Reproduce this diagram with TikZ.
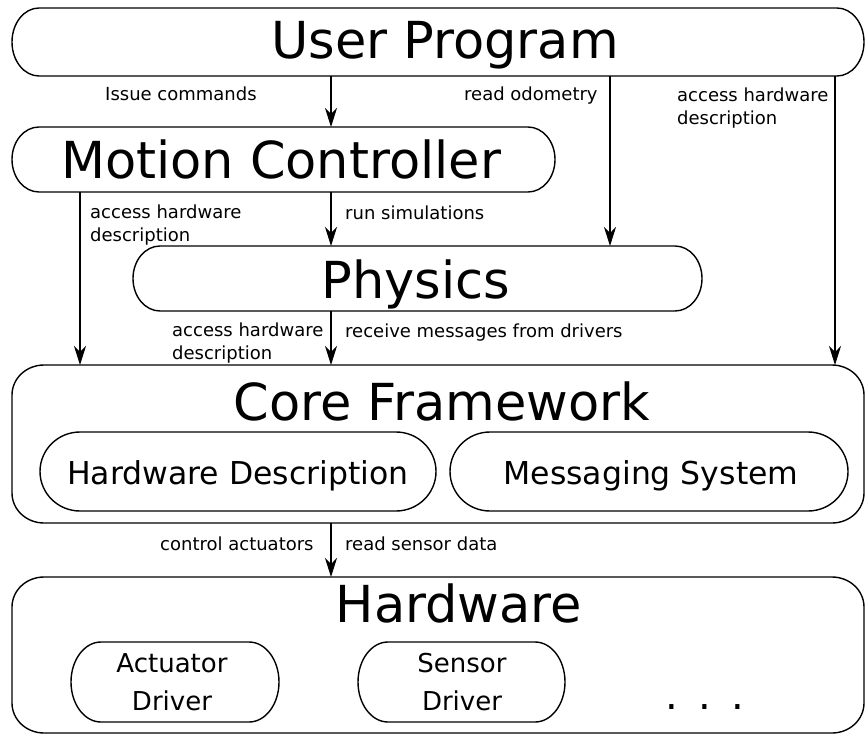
\documentclass[tikz,border=0pt]{standalone}
\usepackage{fontspec}
\setmainfont{DejaVu Sans}
\usetikzlibrary{arrows.meta}
% outline with elliptical corners around a named node: name, rx, ry
\newcommand\eoutline[3]{%
  \draw[boxline] ([xshift=#2pt]#1.north west) -- ([xshift=-#2pt]#1.north east)
    arc[start angle=90,end angle=0,x radius=#2pt,y radius=#3pt]
    -- ([yshift=#3pt]#1.south east)
    arc[start angle=0,end angle=-90,x radius=#2pt,y radius=#3pt]
    -- ([xshift=#2pt]#1.south west)
    arc[start angle=270,end angle=180,x radius=#2pt,y radius=#3pt]
    -- ([yshift=-#3pt]#1.north west)
    arc[start angle=180,end angle=90,x radius=#2pt,y radius=#3pt] -- cycle;}
% box node: name, left, top, right, bottom, rx, ry
\newcommand\mkbox[7]{%
  \node[boxnode, minimum width={(#4-#2)*1pt}, minimum height={(#5-#3)*1pt}]
    (#1) at ({(#2+#4)/2},{(#3+#5)/2}) {};
  \eoutline{#1}{#6}{#7}}
\begin{document}
\begin{tikzpicture}[x=1pt,y=-1pt,
  boxnode/.style={shape=rectangle,draw=none,inner sep=0pt,outer sep=0pt},
  boxline/.style={line width=1.4pt},
  bigtxt/.style={inner sep=0pt,font=\fontsize{51}{60}\selectfont},
  midtxt/.style={inner sep=0pt,font=\fontsize{31.5}{38}\selectfont},
  drvtxt/.style={inner sep=0pt,align=center,font=\fontsize{26}{38}\selectfont},
  lbl/.style={inner sep=0pt,align=left,font=\fontsize{18}{22.5}\selectfont},
  arr/.style={line width=1.1pt,-{Stealth[length=19pt,width=12pt,inset=6pt]}}]
\useasboundingbox (0,0) rectangle (866,735);

% boxes
\mkbox{up}{12}{8}{864}{76}{27}{34}
\mkbox{mc}{12}{127}{555}{192}{27}{32.5}
\mkbox{phys}{133}{246}{702}{311}{27}{32.5}
\mkbox{core}{12}{365}{864}{523}{32}{30}
\mkbox{hwd}{40}{432}{436}{511}{40}{39.5}
\mkbox{msg}{450}{432}{848}{511}{40}{39.5}
\mkbox{hw}{12}{577}{864}{733}{32}{30}
\mkbox{act}{71}{642}{279}{722}{30}{40}
\mkbox{sens}{358}{642}{565}{722}{30}{40}

% titles
\node[bigtxt,anchor=base] (upT) at (445,59) {User Program};
\node[bigtxt,anchor=base] (mcT) at (281,179) {Motion Controller};
\node[bigtxt,anchor=base] (physT) at (416,298) {Physics};
\node[bigtxt,anchor=base] (coreT) at (442,420) {Core Framework};
\node[midtxt,anchor=base] (hwdT) at (238,484) {Hardware Description};
\node[midtxt,anchor=base] (msgT) at (651,484) {Messaging System};
\node[bigtxt,anchor=base] (hwT) at (459,622) {Hardware};
\node[drvtxt,anchor=north] (actT) at (172,653) {Actuator\\Driver};
\node[drvtxt,anchor=north] (sensT) at (462,653) {Sensor\\Driver};
\node[inner sep=0pt,font=\fontsize{40}{46}\selectfont,anchor=base west] (dots) at (665,709) {.\kern20.5pt.\kern20.5pt.};

% connector columns
\coordinate (cM) at (331,0);
\coordinate (cO) at (610,0);
\coordinate (cR) at (835,0);
\coordinate (cL) at (80,0);

% connectors
\draw[arr] (up.south -| cM) -- (mc.north -| cM);
\draw[arr] (up.south -| cO) -- (phys.north -| cO);
\draw[arr] (up.south -| cR) -- (core.north -| cR);
\draw[arr] (mc.south -| cM) -- (phys.north -| cM);
\draw[arr] (mc.south -| cL) -- (core.north -| cL);
\draw[arr] (phys.south -| cM) -- (core.north -| cM);
\draw[arr] (core.south -| cM) -- (hw.north -| cM);

% labels
\node[lbl,anchor=base west] (l1) at (105,101) {Issue commands};
\node[lbl,anchor=base west] (l2) at (464,101) {read odometry};
\node[lbl,anchor=north west] (l3) at (677,88) {access hardware\\description};
\node[lbl,anchor=north west] (l4) at (90,205) {access hardware\\description};
\node[lbl,anchor=base west] (l5) at (345,219) {run simulations};
\node[lbl,anchor=north west] (l6) at (172,323) {access hardware\\description};
\node[lbl,anchor=base west] (l7) at (345,337) {receive messages from drivers};
\node[lbl,anchor=base west] (l8) at (160,550) {control actuators};
\node[lbl,anchor=base west] (l9) at (345,550) {read sensor data};
\end{tikzpicture}
\end{document}
